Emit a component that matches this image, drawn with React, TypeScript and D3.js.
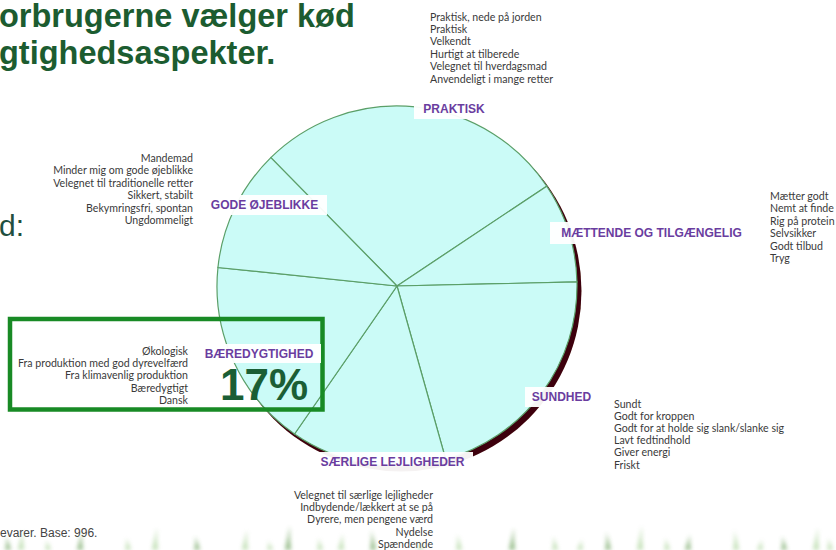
import React from 'react';
import * as d3 from 'd3';

// ---------- data ----------
const categories = ['PRAKTISK', 'MÆTTENDE OG TILGÆNGELIG', 'SUNDHED', 'SÆRLIGE LEJLIGHEDER', 'BÆREDYGTIGHED', 'GODE ØJEBLIKKE'];
const shares = [28, 9, 21, 14, 17, 11];
const highlightLabel = '17%';

const praktiskItems = ['Praktisk, nede på jorden', 'Praktisk', 'Velkendt', 'Hurtigt at tilberede', 'Velegnet til hverdagsmad', 'Anvendeligt i mange retter'];
const maettendeItems = ['Mætter godt', 'Nemt at finde i butikken', 'Rig på protein', 'Selvsikker', 'Godt tilbud', 'Tryg'];
const sundhedItems = ['Sundt', 'Godt for kroppen', 'Godt for at holde sig slank/slanke sig', 'Lavt fedtindhold', 'Giver energi', 'Friskt'];
const saerligeItems = ['Velegnet til særlige lejligheder', 'Indbydende/lækkert at se på', 'Dyrere, men pengene værd', 'Nydelse', 'Spændende'];
const baeredygtigItems = ['Økologisk', 'Fra produktion med god dyrevelfærd', 'Fra klimavenlig produktion', 'Bæredygtigt', 'Dansk'];
const godeItems = ['Mandemad', 'Minder mig om gode øjeblikke', 'Velegnet til traditionelle retter', 'Sikkert, stabilt', 'Bekymringsfri, spontan', 'Ungdommeligt'];

const titleLines = ['orbrugerne vælger kød', 'gtighedsaspekter.'];
const sideText = 'd:';
const footnote = 'evarer. Base:  996.';

// decorative grass blades (x position, height)
const grassX = [8, 21, 48, 80, 128, 155, 197, 245, 270, 288, 320, 341, 373, 420, 459, 512, 555, 580, 608, 640, 667, 688, 736, 760, 784, 816, 830];
const grassH = [14, 20, 10, 18, 12, 22, 14, 20, 9, 24, 12, 16, 20, 8, 16, 22, 14, 10, 18, 24, 12, 15, 20, 10, 14, 22, 12];

// ---------- layout ----------
const W = 836, H = 550;
const cx = 397, cy = 286, R = 180;
const deg = Math.PI / 180;
const startDeg = -44.5;

const labelBoxes: Record<string, { x: number; y: number; w: number; h: number }> = {
  'PRAKTISK': { x: 414, y: 99, w: 80, h: 20 },
  'MÆTTENDE OG TILGÆNGELIG': { x: 550, y: 222, w: 203, h: 22 },
  'SUNDHED': { x: 525, y: 387, w: 73, h: 20 },
  'SÆRLIGE LEJLIGHEDER': { x: 312, y: 452, w: 161, h: 20 },
  'BÆREDYGTIGHED': { x: 197, y: 344, w: 124, h: 19 },
  'GODE ØJEBLIKKE': { x: 202, y: 195, w: 125, h: 20 },
};

const blocks = [
  { items: praktiskItems, x: 430, y0: 20.5, dy: 12.4, anchor: 'start' },
  { items: maettendeItems, x: 770, y0: 200, dy: 12.4, anchor: 'start' },
  { items: sundhedItems, x: 614, y0: 407.5, dy: 12.2, anchor: 'start' },
  { items: saerligeItems, x: 433, y0: 498.5, dy: 12.4, anchor: 'end' },
  { items: baeredygtigItems, x: 188, y0: 354.5, dy: 12.4, anchor: 'end' },
  { items: godeItems, x: 193, y0: 161.5, dy: 12.5, anchor: 'end' },
];

export default function App() {
  const pie = d3
    .pie<number>()
    .sort(null)
    .value((d) => d)
    .startAngle(startDeg * deg)
    .endAngle((startDeg + 360) * deg);
  const arcs = pie(shares);
  const arcGen = d3.arc<d3.PieArcDatum<number>>().innerRadius(0).outerRadius(R);

  const purple = '#6a3d9f';
  const smallFont = 'Lato, "Open Sans", sans-serif';

  return (
    <svg width={W} height={H} style={{ position: 'absolute', left: 0, top: 0, background: '#fff' }}>
      <defs>
        <filter id="blur1" x="-20%" y="-20%" width="140%" height="140%">
          <feGaussianBlur stdDeviation="0.5" />
        </filter>
        <filter id="blur2" x="-50%" y="-50%" width="200%" height="200%">
          <feGaussianBlur stdDeviation="2" />
        </filter>
      </defs>

      {/* title */}
      {titleLines.map((t, i) => (
        <text key={t} x={-1} y={27 + i * 37} fontFamily='"Liberation Sans", Arial, sans-serif' fontWeight="bold" fontSize={32.5} fill="#1c5c30">
          {t}
        </text>
      ))}
      <text x={-1} y={236} fontFamily='"Liberation Sans", Arial, sans-serif' fontSize={30} fill="#1f4f40">
        {sideText}
      </text>

      {/* pie shadow */}
      <circle cx={cx + 4} cy={cy + 5} r={R + 0.5} fill="#3e0608" filter="url(#blur1)" />
      {/* slices */}
      <g transform={`translate(${cx},${cy})`}>
        {arcs.map((a, i) => (
          <path key={categories[i]} d={arcGen(a) || ''} fill="#cbfbf7" stroke="#5b9f68" strokeWidth={1.2} />
        ))}
      </g>

      {/* green highlight box */}
      <rect x={10} y={319} width={312.5} height={90.5} fill="none" stroke="#188a25" strokeWidth={4.5} />

      {/* category labels */}
      {categories.map((c) => {
        const b = labelBoxes[c];
        return (
          <g key={c}>
            <rect x={b.x} y={b.y} width={b.w} height={b.h} fill="#ffffff" opacity={0.95} />
            <text
              x={b.x + b.w / 2}
              y={b.y + b.h / 2 + 4.3}
              textAnchor="middle"
              fontFamily='"Liberation Sans", Arial, sans-serif'
              fontWeight="bold"
              fontSize={12}
              fill={purple}
            >
              {c}
            </text>
          </g>
        );
      })}

      {/* 17% */}
      <text x={264} y={400} textAnchor="middle" fontFamily='"Liberation Sans", Arial, sans-serif' fontWeight="bold" fontSize={44} fill="#1b5e35">
        {highlightLabel}
      </text>

      {/* item blocks */}
      {blocks.map((bl, bi) => (
        <g key={bi}>
          {bl.items.map((t, i) => (
            <text
              key={t}
              x={bl.x}
              y={bl.y0 + i * bl.dy}
              textAnchor={bl.anchor as any}
              fontFamily={smallFont}
              fontSize={10.6}
              fill="#3a3a3a"
            >
              {t}
            </text>
          ))}
        </g>
      ))}

      {/* footnote */}
      <text x={0} y={537} fontFamily='"Liberation Sans", Arial, sans-serif' fontSize={12} fill="#444">
        {footnote}
      </text>

      {/* grass */}
      <g filter="url(#blur2)" opacity={0.6}>
        {grassX.map((x, i) => (
          <path
            key={i}
            d={`M${x - 3},${H} Q${x - 0.5},${H - grassH[i] * 0.5} ${x + (i % 2 ? 2 : -2)},${H - grassH[i]} Q${x + 1},${H - grassH[i] * 0.5} ${x + 3},${H} Z`}
            fill={i % 3 === 0 ? '#4f8f3a' : '#9acb85'}
          />
        ))}
      </g>
    </svg>
  );
}
